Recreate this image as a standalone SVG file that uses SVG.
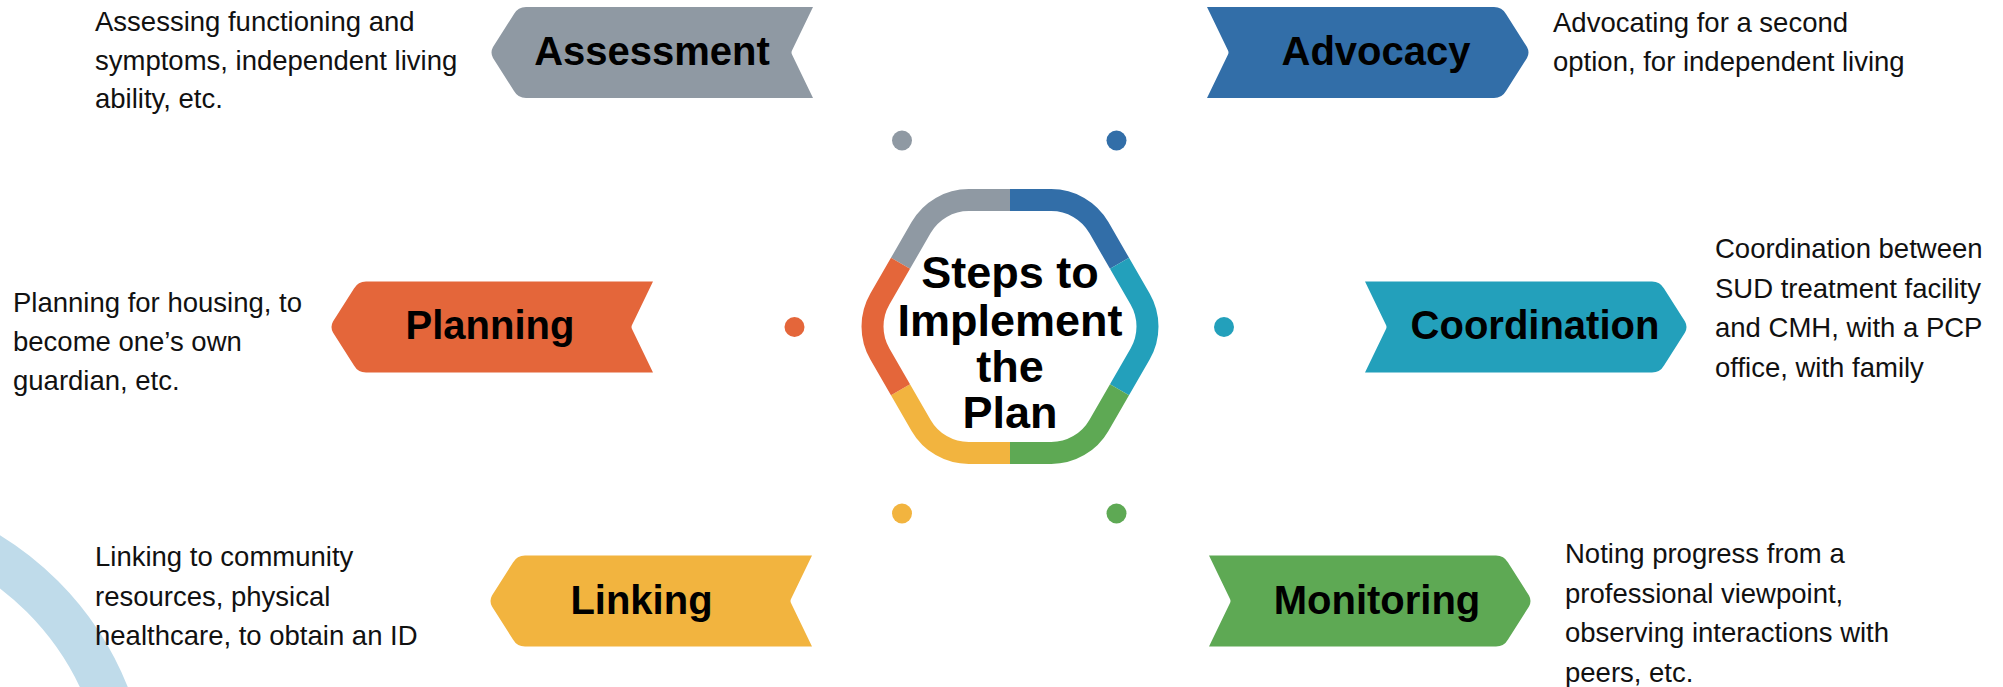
<svg xmlns="http://www.w3.org/2000/svg" xmlns:xlink="http://www.w3.org/1999/xlink" width="2003" height="687" viewBox="0 0 2003 687">
  <style>
    .label { font-family: "Liberation Sans", Arial, sans-serif; font-weight: bold; font-size: 40px; fill: #000; text-anchor: middle; }
    .title { font-family: "Liberation Sans", Arial, sans-serif; font-weight: bold; font-size: 45px; fill: #000; text-anchor: middle; }
    .desc { font-family: "Liberation Sans", Arial, sans-serif; font-size: 27.5px; fill: #111; }
    .ring { fill: none; stroke-width: 22; stroke-linecap: butt; }
  </style>
  <defs>
    <!-- banner pointing left, 323 x 91, notch on the right -->
    <path id="banner" d="M323,0 L36,0 Q28,0 24,7 L3,40 Q0,45.5 3,51 L24,84 Q28,91 36,91 L323,91 L302,47.5 Q301,45.5 302,43.5 Z"/>
  </defs>

  <rect width="2003" height="687" fill="#ffffff"/>

  <!-- pale arc in the lower-left corner -->
  <circle cx="-164" cy="803" r="292" fill="none" stroke="#bfdbea" stroke-width="44"/>

  <!-- small dots around the hub -->
  <g id="dots">
    <circle cx="902" cy="140.5" r="10" fill="#8f99a3"/>
    <circle cx="1116.5" cy="140.5" r="10" fill="#326ea8"/>
    <circle cx="794.5" cy="327" r="10" fill="#e4663a"/>
    <circle cx="1224" cy="327" r="10" fill="#23a0bb"/>
    <circle cx="902" cy="513.5" r="10" fill="#f2b43f"/>
    <circle cx="1116.5" cy="513.5" r="10" fill="#5ea954"/>
  </g>

  <!-- central hexagon ring -->
  <g id="hub">
    <path class="ring" stroke="#8f99a3" d="M900.5,263.28 L921.12,227.56 A55,55 0 0 1 968.75,200.06 L1010,200.06"/>
    <path class="ring" stroke="#326ea8" d="M1010,200.06 L1051.25,200.06 A55,55 0 0 1 1098.88,227.56 L1119.5,263.28"/>
    <path class="ring" stroke="#23a0bb" d="M1119.5,263.28 L1140.12,299 A55,55 0 0 1 1140.12,354 L1119.5,389.72"/>
    <path class="ring" stroke="#5ea954" d="M1119.5,389.72 L1098.88,425.44 A55,55 0 0 1 1051.25,452.94 L1010,452.94"/>
    <path class="ring" stroke="#f2b43f" d="M1010,452.94 L968.75,452.94 A55,55 0 0 1 921.12,425.44 L900.5,389.72"/>
    <path class="ring" stroke="#e4663a" d="M900.5,389.72 L879.88,354 A55,55 0 0 1 879.88,299 L900.5,263.28"/>
    <text class="title" x="1010" y="288">Steps to</text>
    <text class="title" x="1010" y="336">Implement</text>
    <text class="title" x="1010" y="382">the</text>
    <text class="title" x="1010" y="428">Plan</text>
  </g>

  <g id="assessment">
    <use xlink:href="#banner" transform="translate(490,7)" fill="#8f99a3"/>
    <text class="label" x="652" y="64.5">Assessment</text>
    <text class="desc" x="95" y="31">Assessing functioning and</text>
    <text class="desc" x="95" y="69.5">symptoms, independent living</text>
    <text class="desc" x="95" y="108">ability, etc.</text>
  </g>

  <g id="advocacy">
    <use xlink:href="#banner" transform="translate(1530,7) scale(-1,1)" fill="#326ea8"/>
    <text class="label" x="1376" y="64.5">Advocacy</text>
    <text class="desc" x="1553" y="32">Advocating for a second</text>
    <text class="desc" x="1553" y="71">option, for independent living</text>
  </g>

  <g id="planning">
    <use xlink:href="#banner" transform="translate(330,281.5)" fill="#e4663a"/>
    <text class="label" x="490" y="339">Planning</text>
    <text class="desc" x="13" y="312">Planning for housing, to</text>
    <text class="desc" x="13" y="351">become one’s own</text>
    <text class="desc" x="13" y="390">guardian, etc.</text>
  </g>

  <g id="coordination">
    <use xlink:href="#banner" transform="translate(1688,281.5) scale(-1,1)" fill="#23a0bb"/>
    <text class="label" x="1535" y="339">Coordination</text>
    <text class="desc" x="1715" y="258">Coordination between</text>
    <text class="desc" x="1715" y="297.5">SUD treatment facility</text>
    <text class="desc" x="1715" y="337">and CMH, with a PCP</text>
    <text class="desc" x="1715" y="376.5">office, with family</text>
  </g>

  <g id="linking">
    <use xlink:href="#banner" transform="translate(489,555.5)" fill="#f2b43f"/>
    <text class="label" x="641.5" y="614">Linking</text>
    <text class="desc" x="95" y="566">Linking to community</text>
    <text class="desc" x="95" y="605.5">resources, physical</text>
    <text class="desc" x="95" y="645">healthcare, to obtain an ID</text>
  </g>

  <g id="monitoring">
    <use xlink:href="#banner" transform="translate(1532,555.5) scale(-1,1)" fill="#5ea954"/>
    <text class="label" x="1377" y="614">Monitoring</text>
    <text class="desc" x="1565" y="563">Noting progress from a</text>
    <text class="desc" x="1565" y="602.5">professional viewpoint,</text>
    <text class="desc" x="1565" y="642">observing interactions with</text>
    <text class="desc" x="1565" y="681.5">peers, etc.</text>
  </g>
</svg>
